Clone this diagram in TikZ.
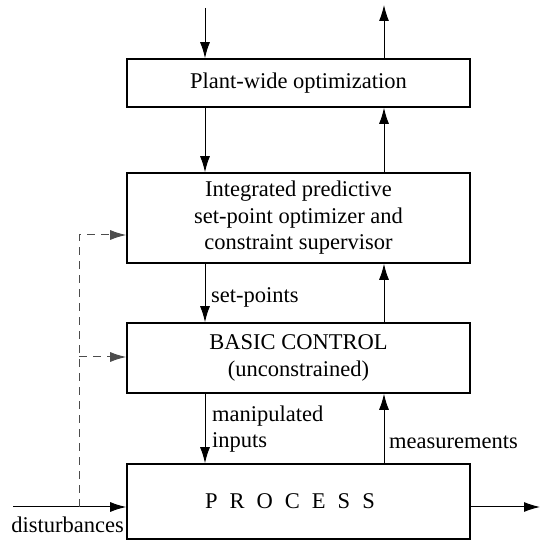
\documentclass[tikz,border=0pt]{standalone}
\usepackage{fontspec}
\setmainfont{Liberation Serif}
\usetikzlibrary{arrows.meta}

\tikzset{
  block/.style={draw, line width=1.6pt, minimum width=343pt, inner sep=0pt,
    align=center, font=\fontsize{22.5}{26.5}\selectfont},
  flow/.style={-{Latex[length=16pt,width=10pt]}, line width=1pt},
  feed/.style={flow, dash pattern=on 8pt off 6pt, draw=black!70},
  lbl/.style={inner sep=0pt, align=left, font=\fontsize{22.5}{26}\selectfont}
}
\newcommand{\gap}{\hspace{12pt}}

\begin{document}
\begin{tikzpicture}[x=1pt,y=-1pt]
\useasboundingbox (0,0) rectangle (542,540);

% blocks
\node[block, minimum height=48pt] (plant) at (298.5,83) {Plant-wide optimization};
\node[block, minimum height=90pt] (integ) at (298.5,218)
  {Integrated predictive\\set-point optimizer and\\constraint supervisor};
\node[block, minimum height=70pt] (basic) at (298.5,358) {BASIC CONTROL\\(unconstrained)};
\node[block, minimum height=75pt] (proc) at (298.5,501.5)
  {P\gap R\gap O\gap C\gap E\gap S\gap S\hspace*{17pt}};

% free ends
\coordinate (intop) at (205,8);
\coordinate (outtop) at (384,5);
\coordinate (dist) at (13,507);
\coordinate (prod) at (540,507);
\coordinate (tap) at (79,507);
\coordinate (fb1) at (79,235);
\coordinate (fb2) at (79,357);

% down the left, up the right
\draw[flow] (intop) -- (intop |- plant.north);
\draw[flow] (plant.north -| outtop) -- (outtop);
\draw[flow] (plant.south -| intop) -- (integ.north -| intop);
\draw[flow] (integ.north -| outtop) -- (plant.south -| outtop);
\draw[flow] (integ.south -| intop) -- (basic.north -| intop);
\draw[flow] (basic.north -| outtop) -- (integ.south -| outtop);
\draw[flow] (basic.south -| intop) -- (proc.north -| intop);
\draw[flow] (proc.north -| outtop) -- (basic.south -| outtop);

% process in and out
\draw[flow] (dist) -- (dist -| proc.west);
\draw[flow] (dist -| proc.east) -- (prod);

% feedforward
\draw[feed] (tap) -- (fb1) -- (fb1 -| integ.west);
\draw[feed] (fb2) -- (fb2 -| basic.west);

% labels
\node[lbl, anchor=west] (setpts) at (211,297) {set-points};
\node[lbl, anchor=west] (manip) at (212,429) {manipulated\\inputs};
\node[lbl, anchor=west] (meas) at (389,442) {measurements};
\node[lbl, anchor=east] (disturb) at (124,525) {disturbances};
\end{tikzpicture}
\end{document}
